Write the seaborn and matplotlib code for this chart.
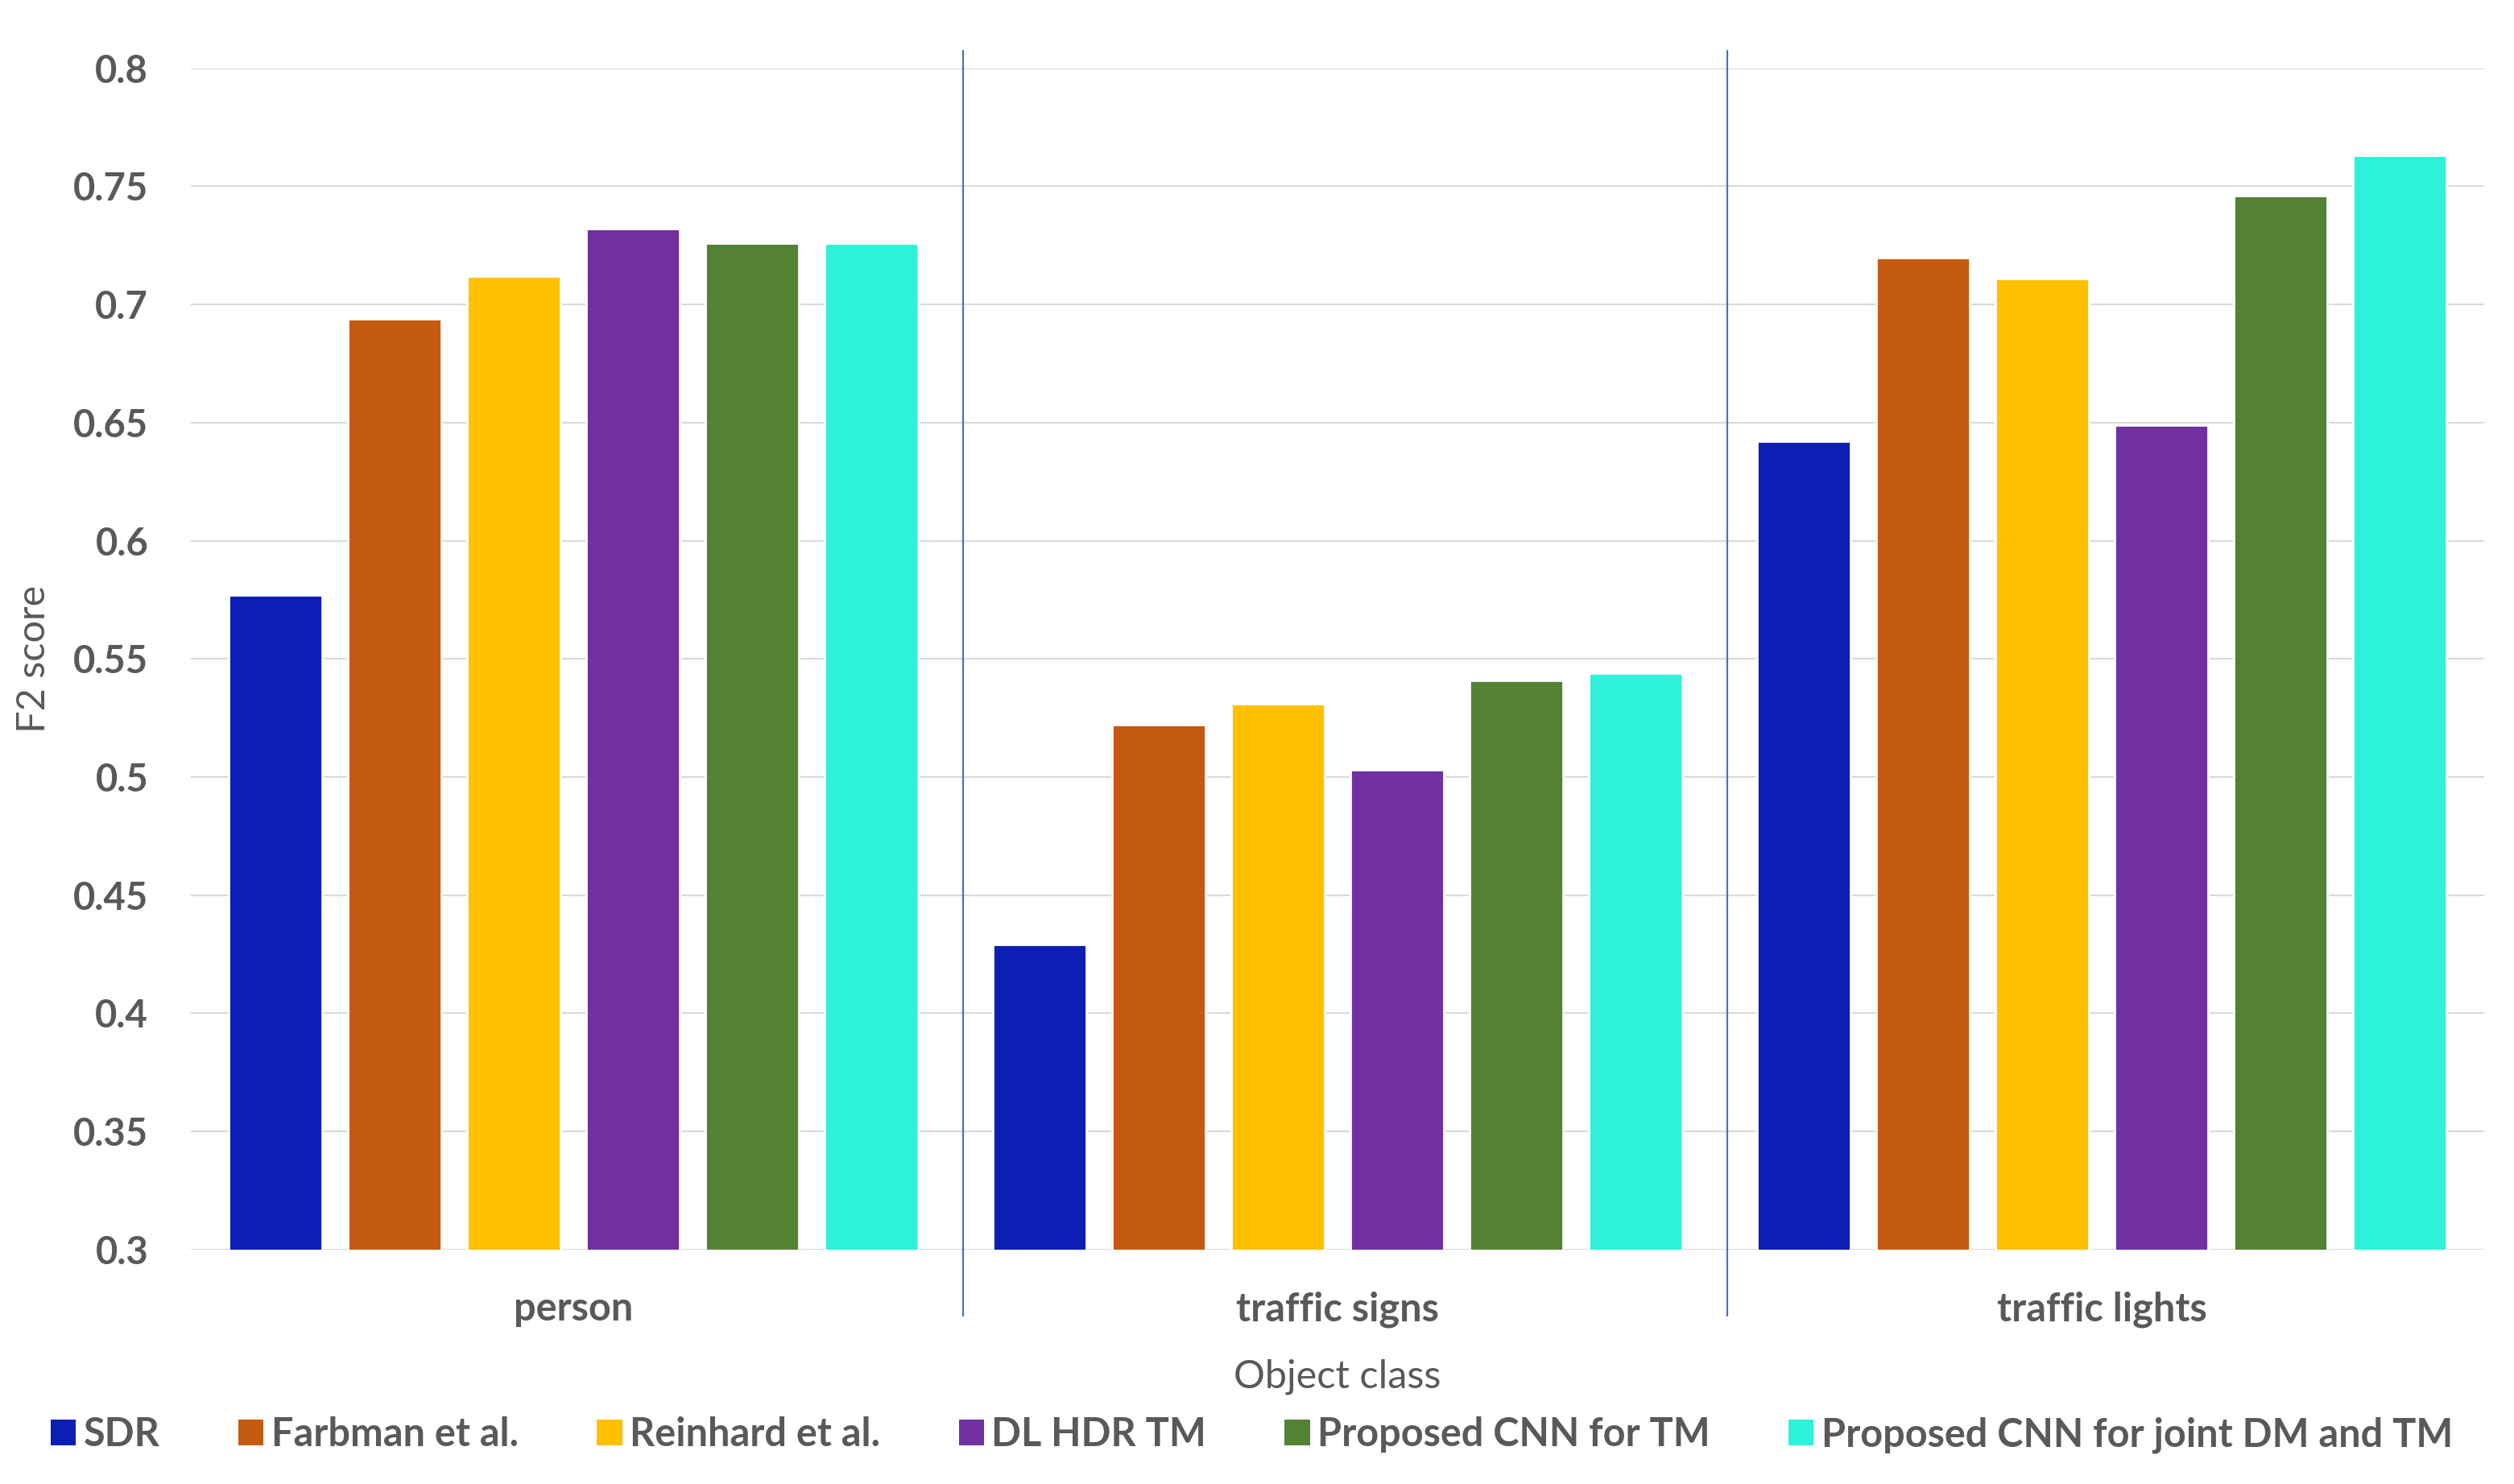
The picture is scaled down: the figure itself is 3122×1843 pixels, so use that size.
import matplotlib
matplotlib.use("Agg")
import matplotlib.pyplot as plt
import seaborn as sns
import pandas as pd
from matplotlib.patches import Patch

categories = ["person", "traffic signs", "traffic lights"]
methods = ["SDR", "Farbman et al.", "Reinhard et al.", "DL HDR TM",
           "Proposed CNN for TM", "Proposed CNN for joint DM and TM"]
sdr = [0.577, 0.429, 0.642]
farbman = [0.694, 0.522, 0.720]
reinhard = [0.712, 0.531, 0.711]
dl_hdr = [0.732, 0.503, 0.649]
proposed_tm = [0.726, 0.541, 0.746]
proposed_joint = [0.726, 0.544, 0.763]
yticks = [0.3, 0.35, 0.4, 0.45, 0.5, 0.55, 0.6, 0.65, 0.7, 0.75, 0.8]
ytick_labels = ["0.3", "0.35", "0.4", "0.45", "0.5", "0.55", "0.6", "0.65", "0.7", "0.75", "0.8"]
colors = ["#0B1FB5", "#C55A11", "#FFC000", "#7030A0", "#548235", "#2EF2DC"]

series = [sdr, farbman, reinhard, dl_hdr, proposed_tm, proposed_joint]
rows = []
for m, vals in zip(methods, series):
    for c, v in zip(categories, vals):
        rows.append({"Object class": c, "Method": m, "F2 score": v})
df = pd.DataFrame(rows)

sns.set_theme(style="white")
plt.rcParams["font.family"] = ["Lato", "DejaVu Sans"]
text_color = "#595959"

fig = plt.figure(figsize=(15.61, 9.215), dpi=200)
ax = fig.add_axes([118.5 / 1561, 0.158, 1424 / 1561, 0.796])

sns.barplot(data=df, x="Object class", y="F2 score", hue="Method",
            hue_order=methods, order=categories, palette=colors,
            saturation=1, width=0.935, gap=0.216, ax=ax, legend=False, zorder=3)

ax.set_ylim(0.3, 0.8)
ax.set_xlim(-0.5, 2.5)
ax.set_yticks(yticks)
ax.set_yticklabels(ytick_labels)
ax.yaxis.grid(True, color="#D9D9D9", linewidth=0.75, zorder=0)
ax.set_axisbelow(True)
for s in ax.spines.values():
    s.set_visible(False)

ax.tick_params(axis="y", length=0, pad=19, labelsize=17, labelcolor=text_color)
ax.tick_params(axis="x", length=0, pad=18.5, labelsize=17.5, labelcolor=text_color)
for lab in ax.get_yticklabels() + ax.get_xticklabels():
    lab.set_fontweight("bold")

# category separators (Excel-style tick marks)
for xpos in [0.51, 1.51]:
    ax.plot([xpos, xpos], [-0.056, 1.015], transform=ax.get_xaxis_transform(),
            color="#4472C4", linewidth=0.8, clip_on=False, zorder=4)

ax.set_xlabel("Object class", fontsize=17.5, color=text_color, labelpad=14)
ax.set_ylabel("F2 score", fontsize=17.5, color=text_color)
ax.yaxis.set_label_coords(-0.0607, 0.5)

handles = [Patch(facecolor=c, edgecolor="none") for c in colors]
leg = fig.legend(handles, methods, loc="center", bbox_to_anchor=(0.498, 0.033),
                 ncol=6, frameon=False, fontsize=17.5, handlelength=0.64,
                 handleheight=0.64, handletextpad=0.2, columnspacing=2.0,
                 borderaxespad=0)
for t in leg.get_texts():
    t.set_color(text_color)
    t.set_fontweight("bold")

fig.savefig("out.png", dpi=200, facecolor="white")
